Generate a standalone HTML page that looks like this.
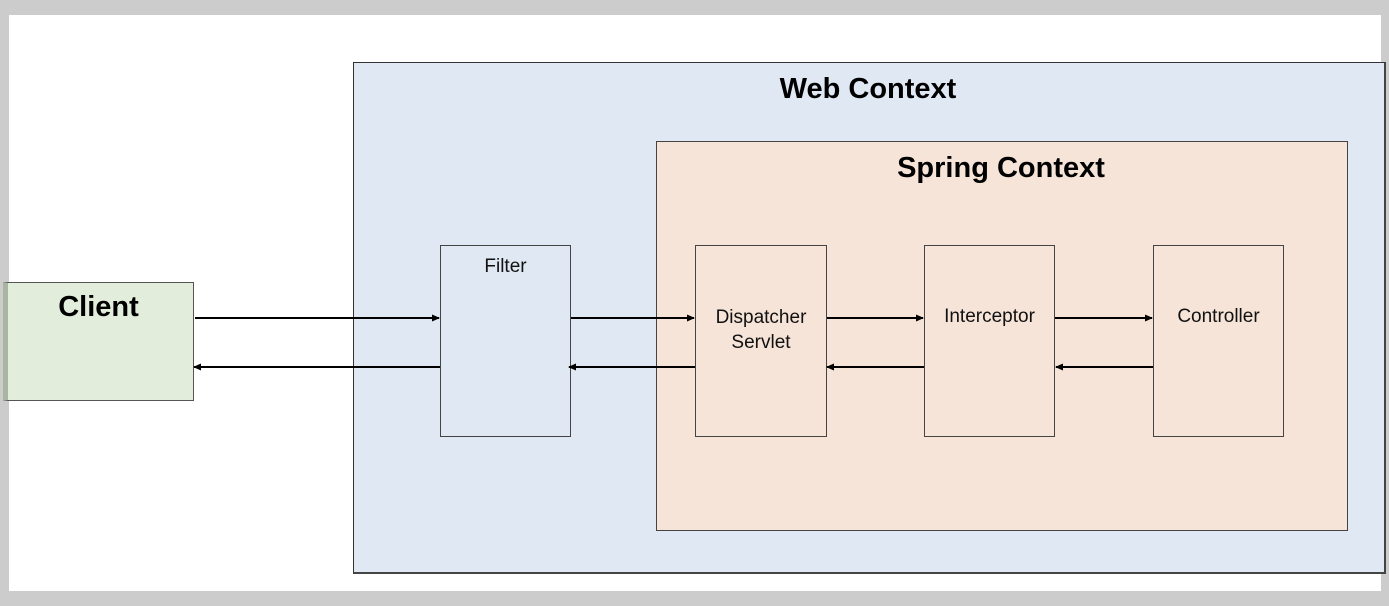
<!DOCTYPE html>
<html><head><style>
body{margin:0;width:1389px;height:606px;background:#cccccc;position:relative;overflow:hidden;font-family:"Liberation Sans","Noto Sans CJK KR",sans-serif}
div{position:absolute;box-sizing:border-box}
.t{position:absolute;white-space:nowrap;text-align:center;color:#000}
.n{border:1.5px solid #444;text-align:center;font-size:19px;color:#111}
</style></head><body>
<div style="left:9px;top:15px;width:1372px;height:576px;background:#fff"></div>
<div style="left:353px;top:62px;width:1033px;height:512px;background:#dfe8f3;border:1.5px solid #333;border-right:2.5px solid #444;border-bottom:2.5px solid #444"></div>
<div class="t" style="left:700px;top:73px;width:336px;font-size:29px;font-weight:bold">Web Context</div>
<div style="left:656px;top:141px;width:692px;height:390px;background:#f6e4d8;border:1.5px solid #444"></div>
<div class="t" style="left:830px;top:152px;width:342px;font-size:29px;font-weight:bold">Spring Context</div>
<div style="left:3px;top:282px;width:191px;height:119px;background:#e2eddb;border:1.5px solid #555;border-left:5px solid #a9b5a2"></div>
<div class="t" style="left:3px;top:291px;width:191px;font-size:29px;font-weight:bold">Client</div>
<div class="n" style="left:440px;top:245px;width:131px;height:192px;background:#dfe8f3;padding-top:10px">Filter</div>
<div class="n" style="left:695px;top:245px;width:132px;height:192px;background:#f6e4d8;padding-top:59px;line-height:25px">Dispatcher<br>Servlet</div>
<div class="n" style="left:924px;top:245px;width:131px;height:192px;background:#f6e4d8;padding-top:60px">Interceptor</div>
<div class="n" style="left:1153px;top:245px;width:131px;height:192px;background:#f6e4d8;padding-top:60px">Controller</div>
<svg width="1389" height="606" style="position:absolute;left:0;top:0">
<defs><marker id="a" markerWidth="8" markerHeight="8" refX="7" refY="4" orient="auto" markerUnits="userSpaceOnUse"><path d="M0,0.5 L8,4 L0,7.5z" fill="#000"/></marker></defs>
<g stroke="#000" stroke-width="2" marker-end="url(#a)">
<line x1="195" y1="318" x2="439" y2="318"/>
<line x1="440" y1="367" x2="194" y2="367"/>
<line x1="571" y1="318" x2="694" y2="318"/>
<line x1="695" y1="367" x2="569" y2="367"/>
<line x1="827" y1="318" x2="923" y2="318"/>
<line x1="924" y1="367" x2="827" y2="367"/>
<line x1="1055" y1="318" x2="1152" y2="318"/>
<line x1="1153" y1="367" x2="1056" y2="367"/>
</g></svg>
</body></html>
